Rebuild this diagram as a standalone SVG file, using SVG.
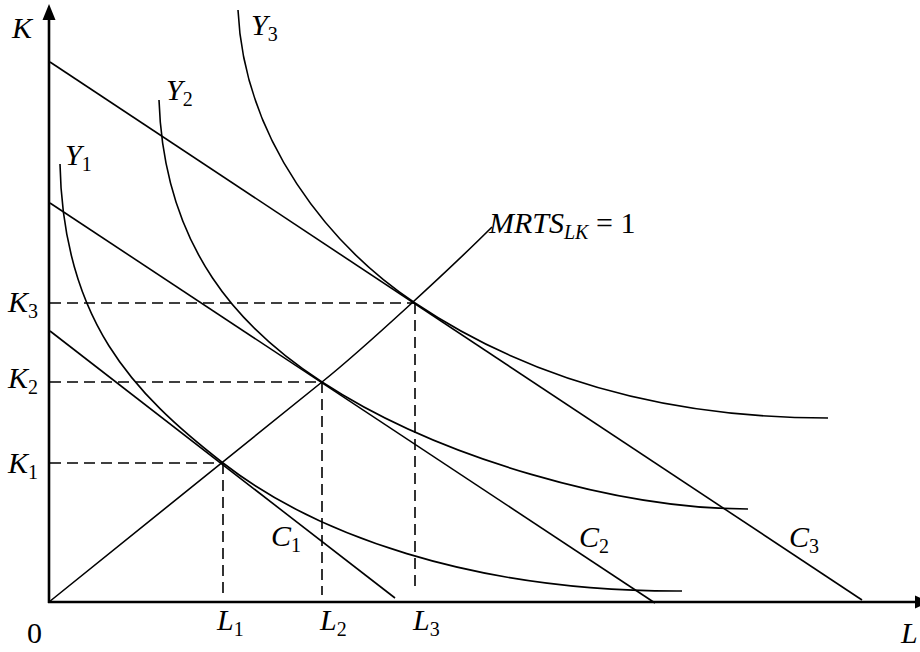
<svg xmlns="http://www.w3.org/2000/svg" width="920" height="652" viewBox="0 0 920 652">
<style>
.ln{fill:none;stroke:#000;stroke-width:1.6}
.ax{fill:none;stroke:#000;stroke-width:2.6}
.ds{fill:none;stroke:#000;stroke-width:1.6;stroke-dasharray:11 6}
text{font-family:"Liberation Serif","Times New Roman",serif;font-size:30px;fill:#000}
.i{font-style:italic}
.s{font-size:20px;font-style:normal}
</style>
<rect width="920" height="652" fill="#fff"/>
<g id="axes">
<line class="ax" x1="49" y1="603" x2="49" y2="18"/>
<polygon points="49,4 42.5,20 55.5,20"/>
<line class="ax" x1="48" y1="602" x2="916" y2="602"/>
<polygon points="930,602 915,595.5 915,608.5"/>
<text x="12" y="38" class="i">K</text>
<text x="27" y="643">0</text>
<text x="901" y="643" class="i">L</text>
</g>
<g id="guides">
<line class="ds" x1="50" y1="463" x2="223" y2="463"/>
<line class="ds" x1="50" y1="382" x2="322" y2="382"/>
<line class="ds" x1="50" y1="303" x2="415" y2="303"/>
<line class="ds" x1="223" y1="463" x2="223" y2="595"/>
<line class="ds" x1="322" y1="382" x2="322" y2="595"/>
<line class="ds" x1="415" y1="303" x2="415" y2="590"/>
<text x="8" y="473" class="i">K<tspan class="s" dy="6">1</tspan></text>
<text x="8" y="388" class="i">K<tspan class="s" dy="6">2</tspan></text>
<text x="8" y="312" class="i">K<tspan class="s" dy="6">3</tspan></text>
<text x="217" y="630" class="i">L<tspan class="s" dy="6">1</tspan></text>
<text x="320" y="630" class="i">L<tspan class="s" dy="6">2</tspan></text>
<text x="413" y="630" class="i">L<tspan class="s" dy="6">3</tspan></text>
</g>
<g id="connectors">
<g id="C1">
<line class="ln" x1="50" y1="331" x2="395" y2="598"/>
<text x="271" y="546" class="i">C<tspan class="s" dy="6">1</tspan></text>
</g>
<g id="C2">
<line class="ln" x1="50" y1="203" x2="655" y2="603"/>
<text x="579" y="547" class="i">C<tspan class="s" dy="6">2</tspan></text>
</g>
<g id="C3">
<line class="ln" x1="50" y1="62" x2="862" y2="600"/>
<text x="789" y="547" class="i">C<tspan class="s" dy="6">3</tspan></text>
</g>
<g id="MRTS">
<path class="ln" d="M49,602 L322,382 C362,350 452,267 492,227"/>
<text x="489" y="233" class="i">MRTS<tspan class="s" style="font-style:italic" dy="6">LK</tspan><tspan dy="-6" style="font-style:normal"> = 1</tspan></text>
</g>
</g>
<g id="Y1">
<path class="ln" d="M60,164 C63,320 133,393 223,463 C313,533 470,592 682,591"/>
<text x="65" y="165" class="i">Y<tspan class="s" dy="6">1</tspan></text>
</g>
<g id="Y2">
<path class="ln" d="M159,100 C164,250 242,330 322,382 C440,459 620,509 748,509"/>
<text x="166" y="100" class="i">Y<tspan class="s" dy="6">2</tspan></text>
</g>
<g id="Y3">
<path class="ln" d="M238,10 C244,140 330,246 415,303 C515,370 650,418 828,418"/>
<text x="251" y="35" class="i">Y<tspan class="s" dy="6">3</tspan></text>
</g>
</svg>
